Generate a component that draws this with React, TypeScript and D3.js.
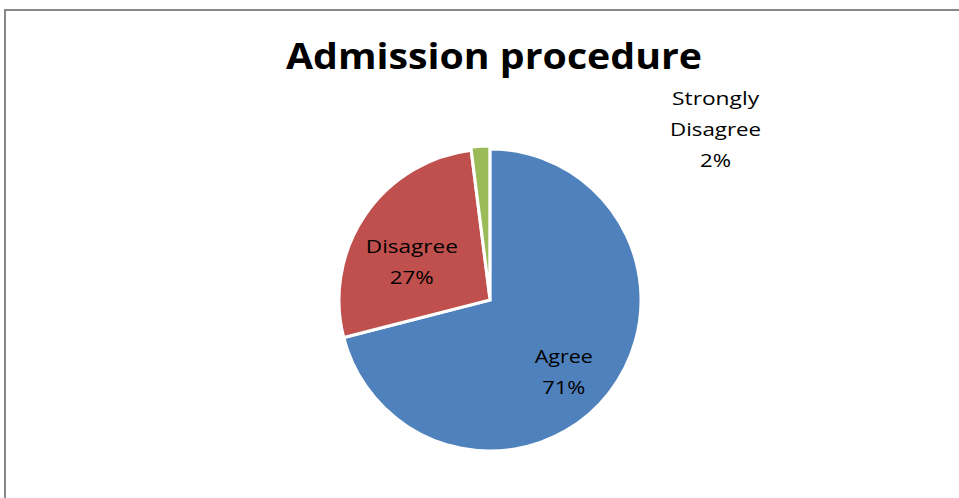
import React from "react";
import * as d3 from "d3";

const title = "Admission procedure";
const categories = ["Agree", "Disagree", "Strongly Disagree"];
const values = [71, 27, 2];
const percentLabels = ["71%", "27%", "2%"];
const colors = ["#4F81BD", "#C0504D", "#9BBB59"];

// label layout (line text and measured widths in reference)
const labelLines = [
  [["Agree", 58], ["71%", 43]],
  [["Disagree", 92], ["27%", 44]],
  [["Strongly", 87], ["Disagree", 91], ["2%", 31]],
];
const labelRadiusFactor = [0.66, 0.55, 1.1];
const labelNudge = [
  [-5, 11.5],
  [-9.5, 9],
  [236, -4],
];

export default function App() {
  const W = 959;
  const H = 498;
  const cx = 490;
  const cy = 300;
  const r = 151;

  const pie = d3.pie<number>().sort(null).value((d) => d)(values);
  const arc = d3.arc<d3.PieArcDatum<number>>().innerRadius(0).outerRadius(r);

  const lineH = 31;
  const fontSize = 19;

  return (
    <svg
      width={W}
      height={H}
      style={{ position: "absolute", left: 0, top: 0, background: "#fff" }}
    >
      <rect x={5} y={10} width={W + 20} height={H + 20} fill="#fff" stroke="#878787" strokeWidth={2} />
      <text
        x={494}
        y={69}
        textAnchor="middle"
        fontFamily="'Open Sans', sans-serif"
        fontWeight="bold"
        fontSize={35}
        textLength={416}
        lengthAdjust="spacingAndGlyphs"
        fill="#000"
      >
        {title}
      </text>
      <g transform={`translate(${cx},${cy})`}>
        {pie.map((p, i) => {
          const mid = (p.startAngle + p.endAngle) / 2;
          const ex = i === 2 ? 3 : 0;
          const tx = Math.sin(mid) * ex;
          const ty = -Math.cos(mid) * ex;
          return (
            <path
              key={categories[i]}
              d={arc(p) || ""}
              fill={colors[i]}
              stroke="#fff"
              strokeWidth={3}
              strokeLinejoin="miter"
              transform={`translate(${tx},${ty})`}
            />
          );
        })}
      </g>
      {pie.map((p, i) => {
        const mid = (p.startAngle + p.endAngle) / 2;
        const lr = r * labelRadiusFactor[i];
        const lx = cx + Math.sin(mid) * lr + labelNudge[i][0];
        const ly = cy - Math.cos(mid) * lr + labelNudge[i][1];
        const lines = labelLines[i];
        const n = lines.length;
        const firstBaseline = ly - ((n - 1) * lineH) / 2 + 6;
        return (
          <g key={"lbl" + i}>
            {lines.map(([t, w], j) => (
              <text
                key={j}
                x={lx}
                y={firstBaseline + j * lineH}
                textAnchor="middle"
                fontFamily="'Open Sans', sans-serif"
                fontSize={fontSize}
                textLength={w as number}
                lengthAdjust="spacingAndGlyphs"
                fill="#000"
              >
                {t as string}
              </text>
            ))}
          </g>
        );
      })}
    </svg>
  );
}
